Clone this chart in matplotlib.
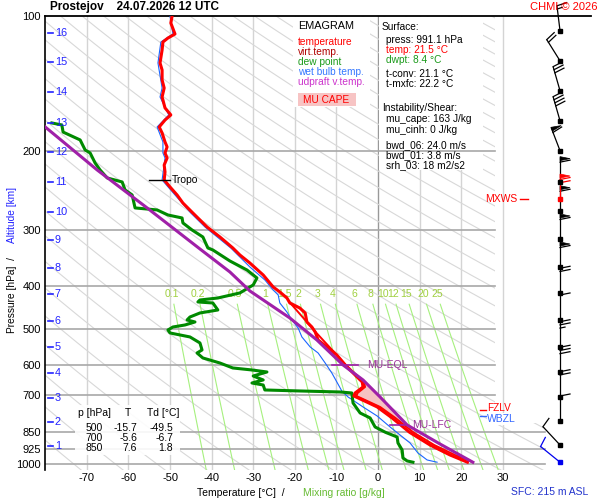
import numpy as np
import matplotlib
matplotlib.use("Agg")
import matplotlib.pyplot as plt
from matplotlib.patches import Rectangle, Polygon
from matplotlib.transforms import blended_transform_factory, IdentityTransform
from matplotlib.ticker import NullLocator

plt.rcParams['font.family'] = ['Liberation Sans', 'DejaVu Sans']

# ---- sounding (hPa, degC) ----
temp_p = [100.0, 103.7, 109.7, 112.0, 114.3, 119.1, 127.3, 132.0, 138.9, 144.8, 151.6, 160.4,
          166.3, 170.7, 176.9, 182.4, 191.1, 196.0, 202.2, 207.5, 215.1, 222.9, 232.3, 240.8,
          250.9, 261.5, 275.3, 295.8, 311.4, 329.5, 341.6, 356.0, 378.6, 402.7, 413.1, 426.0,
          437.2, 448.6, 460.3, 482.0, 494.6, 507.5, 528.7, 548.1, 571.1, 601.3, 633.0, 656.1,
          673.2, 694.3, 705.1, 746.0, 789.6, 850.0, 907.1, 954.9, 991.1]
temp_t = [-49.5, -49.8, -48.8, -50.5, -51.7, -51.9, -52.4, -51.9, -51.9, -51.4, -51.9, -51.2,
          -49.8, -51.2, -52.6, -51.9, -51.2, -50.7, -51.2, -50.7, -51.4, -51.2, -51.4, -50.0,
          -48.3, -46.9, -44.5, -41.1, -38.0, -34.9, -33.2, -30.8, -27.6, -25.2, -23.6, -21.9,
          -21.2, -18.8, -17.5, -17.1, -15.9, -15.1, -14.4, -12.3, -9.9, -7.9, -5.5, -3.8,
          -3.6, -5.5, -5.8, -0.2, 3.4, 7.6, 12.5, 17.3, 21.5]

virt_p = [437.2, 507.5, 601.3, 633.0, 656.1, 673.2, 694.3, 705.1, 746.0, 789.6, 850.0, 907.1, 954.9, 991.1]
virt_t = [-21.1, -15.0, -7.7, -5.2, -3.4, -3.1, -4.9, -5.2, 0.5, 4.2, 8.5, 13.5, 18.5, 22.8]

dewp_p = [173.3, 175.1, 181.6, 189.1, 199.1, 202.2, 212.9, 220.7, 229.9, 234.7, 244.5, 250.9,
          268.2, 271.0, 278.1, 282.4, 289.7, 300.4, 311.4, 329.5, 332.9, 352.3, 369.0, 384.4,
          398.5, 415.2, 426.1, 430.5, 434.9, 437.2, 453.2, 460.2, 469.8, 477.1, 482.0, 489.5,
          494.6, 502.3, 510.0, 520.6, 536.9, 556.6, 565.3, 580.0, 595.2, 610.6, 616.9, 623.3,
          636.3, 649.4, 659.6, 666.4, 683.7, 687.2, 690.8, 694.3, 731.0, 769.5, 789.5, 826.9,
          850.0, 870.6, 897.8, 930.7, 969.6, 984.7, 991.1]
dewp_t = [-78.4, -76.0, -75.7, -71.6, -70.4, -69.2, -68.0, -66.8, -65.1, -61.5, -60.8, -59.1,
          -58.4, -53.1, -50.5, -47.1, -46.9, -44.7, -42.1, -40.9, -39.7, -35.6, -31.5, -29.1,
          -30.0, -33.2, -38.5, -42.8, -43.3, -39.7, -38.5, -42.8, -45.2, -45.9, -44.0, -46.4,
          -49.3, -50.5, -50.0, -45.2, -42.8, -42.3, -43.5, -42.1, -38.0, -34.9, -30.3, -26.7,
          -30.0, -27.6, -30.3, -27.6, -27.2, -18.8, -9.1, -6.3, -6.0, -4.3, -1.9, -0.7,
          1.8, 4.6, 4.8, 5.8, 6.0, 7.0, 8.4]

wetb_p = [100.0, 109.7, 114.3, 127.3, 144.8, 151.6, 166.3, 176.9, 191.1, 202.2, 207.5, 232.3,
          250.9, 275.3, 295.8, 329.5, 363.3, 388.4, 408.9, 419.5, 437.2, 457.9, 477.1, 497.1,
          520.6, 548.1, 565.3, 595.2, 626.5, 656.1, 687.2, 708.8, 746.0, 781.5, 826.9, 861.7,
          897.8, 945.2, 979.7, 991.1]
wetb_t = [-50.0, -49.3, -52.2, -52.9, -51.9, -52.4, -50.3, -53.1, -51.7, -51.7, -51.2, -51.9,
          -48.8, -45.0, -41.6, -35.4, -30.8, -27.2, -25.2, -24.0, -23.6, -21.9, -20.7, -19.2,
          -18.3, -16.3, -14.4, -12.7, -11.1, -9.9, -8.7, -7.2, -3.6, -0.2, 2.9, 5.3,
          7.7, 9.6, 11.8, 14.2]

parcel_p = [176.9, 220.7, 268.2, 331.2, 372.8, 411.0, 472.2, 528.7, 601.3, 649.4, 708.8, 818.5, 902.5, 991.1]
parcel_t = [-80.0, -67.5, -55.5, -42.8, -35.6, -30.8, -21.2, -14.7, -8.4, -3.6, 0.5, 7.0, 14.9, 22.8]

# altitude marks (km -> hPa)
km_vals = list(range(1, 17))
km_p = [913, 805, 711, 626, 548, 479, 417, 365, 316, 274, 235, 201, 173, 148, 127, 109]

# wind profile
wind_p = [107.8, 125.9, 146.8, 171.3, 199.8, 234.3, 272.1, 314.6, 363.4, 415.9, 477.1,
          547.3, 624.2, 707.7, 801.9, 907.1, 991.1]
wind_dir = [353, 328, 344, 344, 339, 360, 360, 360, 360, 360, 360, 360, 360, 360, 360, 317, 309]
wind_spd = [15, 20, 30, 40, 60, 60, 60, 60, 60, 20, 10, 25, 30, 20, 10, 10, 10]
mxws_p, mxws_dir, mxws_spd = 256.2, 360, 70

p_levels = [100, 200, 300, 400, 500, 600, 700, 850, 925, 1000]
t_ticks = [-70, -60, -50, -40, -30, -20, -10, 0, 10, 20, 30]
mix_ratios = [0.1, 0.2, 0.5, 1, 1.5, 2, 3, 4, 6, 8, 10, 12, 15, 20, 25]
mix_labels = ['0.1', '0.2', '0.5', '1', '1.5', '2', '3', '4', '6', '8', '10', '12', '15', '20', '25']

table_p = [500, 700, 850]
table_t = [-15.7, -5.6, 7.6]
table_td = [-49.5, -6.7, 1.8]

tropo_p = 232.3
eql_p, lfc_p = 601.3, 818.5
fzlv_p, wbzl_p = 757.7, 781.5

W, H = 600, 500
def fx(x): return x / W
def fy(y): return 1 - y / H

TMIN, TMAX, PBOT, PTOP = -80.05, 51.2, 1031.6, 100

fig = plt.figure(figsize=(6, 5), dpi=100, facecolor='white')
ax = fig.add_axes([fx(45), fy(470), (591 - 45) / W, (470 - 16) / H])
ax.set_yscale('log')
ax.set_xlim(TMIN, TMAX)
ax.set_ylim(PBOT, PTOP)
for s in ['top', 'right', 'bottom']:
    ax.spines[s].set_visible(False)
ax.spines['left'].set_linewidth(1.2)
ax.yaxis.set_minor_locator(NullLocator())
ax.set_yticks(p_levels)
ax.set_yticklabels([str(p) for p in p_levels])
ax.set_xticks(t_ticks)
ax.set_xticklabels([str(t) for t in t_ticks])
ax.tick_params(length=0, labelsize=8, pad=2)
ax.tick_params(axis='y', pad=3)

clip = Polygon([(TMIN, PTOP), (28.1, PTOP), (28.1, 810), (40.1, 810), (40.1, PBOT), (TMIN, PBOT)],
               closed=True, transform=ax.transData, facecolor='none', edgecolor='none')

# isotherms
for t in t_ticks:
    ax.plot([t, t], [PTOP, PBOT], color='#999999' if t == 0 else '#d4d4d4', lw=1.0, zorder=1)

# dry adiabats
pp = np.geomspace(PTOP, PBOT, 200)
for th in range(190, 610, 10):
    ln, = ax.plot(th * (pp / 1000.0) ** 0.2857 - 273.15, pp, color='#d8d8d8', lw=0.8, zorder=1)
    ln.set_clip_path(clip)

# mixing ratio lines
pm = np.geomspace(440, PBOT, 60)
for w, lab in zip(mix_ratios, mix_labels):
    a = np.log(w * pm / (622.0 + w) / 6.112)
    ln, = ax.plot(243.5 * a / (17.67 - a), pm, color='#a6f07e', lw=0.8, zorder=1)
    ln.set_clip_path(clip)
    a0 = np.log(w * 418 / (622.0 + w) / 6.112)
    ax.text(243.5 * a0 / (17.67 - a0), 418, lab, color='#a0d040', fontsize=7.5,
            ha='center', va='center', zorder=1.2)

# boxes
box_kw = dict(transform=fig.transFigure, facecolor='white', edgecolor='none')
ax.add_patch(Rectangle((fx(293), fy(107)), 77 / W, 90 / H, zorder=1.5, **box_kw))
ax.add_patch(Rectangle((fx(379), fy(170)), 104 / W, 153 / H, zorder=1.5, **box_kw))
ax.add_patch(Rectangle((fx(75), fy(455)), 105 / W, 50 / H, zorder=2.5, alpha=0.9, **box_kw))
ax.add_patch(Rectangle((fx(298), fy(106)), 58 / W, 13 / H, transform=fig.transFigure,
                       facecolor='#f7c4c4', edgecolor='none', zorder=1.6))

# pressure lines
for p in p_levels[1:]:
    ax.plot([TMIN, 40.1 if p >= 850 else 28.1], [p, p], color='#a8a8a8', lw=1.2, zorder=2)
ax.plot([TMIN, TMAX], [PTOP, PTOP], color='black', lw=1.3, zorder=2, clip_on=False)

# CAPE area
pc = np.geomspace(eql_p, lfc_p, 200)
tp = np.interp(np.log(pc), np.log(parcel_p), parcel_t)
te = np.interp(np.log(pc), np.log(virt_p), virt_t)
ax.fill_betweenx(pc, te, tp, where=tp >= te, color='#f6c2c2', lw=0, zorder=2.8)

# profiles
ax.plot(wetb_t, wetb_p, color='#1a66ff', lw=0.8, zorder=3.2)
ax.plot(dewp_t, dewp_p, color='#008a00', lw=2.2, zorder=3.4)
ax.plot(virt_t, virt_p, color='#ff0000', lw=1.4, zorder=3.5)
ax.plot(temp_t, temp_p, color='#ff0000', lw=2.2, zorder=3.6)
ax.plot(parcel_t, parcel_p, color='#a020a8', lw=2.2, zorder=3.7)

# level marks
ax.plot([-55.0, -50.0], [tropo_p, tropo_p], color='black', lw=1, zorder=4)
ax.text(-49.6, tropo_p, 'Tropo', fontsize=7.5, va='center', zorder=5)
ax.plot([-11.0, -4.8], [eql_p, eql_p], color='#a020a8', lw=1.2, zorder=4)
ax.text(-2.6, eql_p, 'MU-EQL', color='#993399', fontsize=7.5, va='center', zorder=5)
ax.plot([2.9, 6.5], [lfc_p, lfc_p], color='#a020a8', lw=1.2, zorder=4)
ax.text(8.2, lfc_p, 'MU-LFC', color='#993399', fontsize=7.5, va='center', zorder=5)
ax.plot([24.5, 26.0], [fzlv_p, fzlv_p], color='red', lw=1, zorder=4)
ax.text(26.3, 749.6, 'FZLV', color='red', fontsize=7.2, va='center', zorder=5)
ax.plot([24.5, 26.0], [wbzl_p, wbzl_p], color='#3366ff', lw=1, zorder=4)
ax.text(26.3, 793.7, 'WBZL', color='#3366ff', fontsize=7.5, va='center', zorder=5.1,
        bbox=dict(facecolor='white', edgecolor='none', pad=0.6))
ax.plot([34.1, 36.1], [mxws_p, mxws_p], color='red', lw=1, zorder=4)
ax.text(33.4, mxws_p, 'MXWS', color='red', fontsize=7.5, va='center', ha='right', zorder=5)

# altitude scale
trans = blended_transform_factory(ax.transAxes, ax.transData)
for k, p in zip(km_vals, km_p):
    ax.plot([0.0055, 0.0147], [p, p], color='#2222ff', lw=1.2, transform=trans, zorder=4)
    ax.text(0.0183, p, str(k), color='#2222ff', fontsize=7.8, va='center', transform=trans, zorder=5)

# wind barbs, drawn in pixels around each level dot
xw = 43.75
ident = IdentityTransform()
STAFF, FEAT, FLAGW, GAP = 25.0, 10.0, 4.0, 3.2

def draw_barb(p, wdir, spd, col):
    bx, by = ax.transData.transform((xw, p))
    d = np.radians(wdir)
    s = np.array([np.sin(d), np.cos(d)])      # towards where the wind comes from
    r = np.array([np.cos(d), -np.sin(d)])     # feathers on the right side
    base = np.array([bx, by])
    tip = base + STAFF * s
    ax.plot([base[0], tip[0]], [base[1], tip[1]], color=col, lw=0.9, transform=ident,
            clip_on=False, zorder=4, solid_capstyle='butt')
    pos = tip.copy()
    n50, rest = divmod(int(spd), 50)
    n10, rest = divmod(rest, 10)
    n5 = rest // 5
    for _ in range(n50):
        apex = pos + FEAT * r - s * FLAGW / 2
        back = pos - s * FLAGW
        ax.fill([pos[0], apex[0], back[0]], [pos[1], apex[1], back[1]], color=col, lw=0.5,
                transform=ident, clip_on=False, zorder=4)
        pos = back - s * 1.5
    for _ in range(n10):
        end = pos + FEAT * r + s * 2.0
        ax.plot([pos[0], end[0]], [pos[1], end[1]], color=col, lw=0.9, transform=ident,
                clip_on=False, zorder=4)
        pos = pos - s * GAP
    for _ in range(n5):
        end = pos + FEAT * 0.5 * r + s * 1.0
        ax.plot([pos[0], end[0]], [pos[1], end[1]], color=col, lw=0.9, transform=ident,
                clip_on=False, zorder=4)

for p, dd, sp in zip(wind_p[:-1], wind_dir[:-1], wind_spd[:-1]):
    draw_barb(p, dd, sp, 'black')
draw_barb(wind_p[-1], wind_dir[-1], wind_spd[-1], '#0000ee')
draw_barb(mxws_p, mxws_dir, mxws_spd, 'red')
ax.plot(np.full(len(wind_p) - 1, xw), wind_p[:-1], ls='none', marker='s', ms=2.6, color='black',
        zorder=4.5, clip_on=False)
ax.plot([xw], [wind_p[-1]], ls='none', marker='s', ms=2.8, color='#0000ee', zorder=4.5, clip_on=False)
ax.plot([xw], [mxws_p], ls='none', marker='s', ms=2.8, color='red', zorder=4.6, clip_on=False)

# titles and labels
fig.text(fx(50), fy(7), 'Prostejov    24.07.2026 12 UTC', fontsize=8.5, fontweight='bold', va='center')
fig.text(fx(597), fy(7), 'CHMI © 2026', fontsize=8, color='red', ha='right', va='center')
fig.text(fx(12), fy(333), 'Pressure [hPa]  /', rotation=90, rotation_mode='anchor',
         ha='left', va='center', fontsize=7.3)
fig.text(fx(12), fy(243), 'Altitude [km]', rotation=90, rotation_mode='anchor',
         ha='left', va='center', fontsize=7.3, color='#2222ff')
fig.text(fx(197), fy(493), 'Temperature [°C]  /', fontsize=7.5, va='center')
fig.text(fx(303), fy(493), 'Mixing ratio [g/kg]', fontsize=7.5, va='center', color='#66bb33')
fig.text(fx(588), fy(492), 'SFC: 215 m ASL', fontsize=7.5, va='center', ha='right', color='#2233cc')

# legend
fig.text(fx(298), fy(26), 'EMAGRAM', fontsize=7.8, va='center')
legend_items = [('temperature', '#ff0000'), ('virt.temp.', '#b00000'), ('dew point', '#1a9a1a'),
                ('wet bulb temp.', '#3377ff'), ('udpraft v.temp.', '#cc33cc')]
for i, (lab, col) in enumerate(legend_items):
    fig.text(fx(298), fy(42 + 10 * i), lab, color=col, fontsize=7.3, va='center')
fig.text(fx(303), fy(100), 'MU CAPE', color='red', fontsize=7.3, va='center')

# info block
info = [(382, 27, 'Surface:', 'black'), (386, 40, 'press: 991.1 hPa', 'black'),
        (386, 50, 'temp: 21.5 °C', 'red'), (386, 60, 'dwpt: 8.4 °C', '#1a9a1a'),
        (386, 74, 't-conv: 21.1 °C', 'black'), (386, 84, 't-mxfc: 22.2 °C', 'black'),
        (382, 108, 'Instability/Shear:', 'black'), (386, 119, 'mu_cape: 163 J/kg', 'black'),
        (386, 130, 'mu_cinh: 0 J/kg', 'black'), (386, 145, 'bwd_06: 24.0 m/s', 'black'),
        (386, 155, 'bwd_01: 3.8 m/s', 'black'), (386, 165, 'srh_03: 18 m2/s2', 'black')]
for x, y, s, c in info:
    fig.text(fx(x), fy(y), s, color=c, fontsize=7.3, va='center')

# table
fig.text(fx(78), fy(413), 'p [hPa]', fontsize=7.5, va='center')
fig.text(fx(125), fy(413), 'T', fontsize=7.5, va='center')
fig.text(fx(147), fy(413), 'Td [°C]', fontsize=7.5, va='center')
for i, (p, t, td) in enumerate(zip(table_p, table_t, table_td)):
    y = 428 + 10 * i
    fig.text(fx(103), fy(y), str(p), fontsize=7.5, va='center', ha='right')
    fig.text(fx(137), fy(y), f'{t:.1f}', fontsize=7.5, va='center', ha='right')
    fig.text(fx(173), fy(y), f'{td:.1f}', fontsize=7.5, va='center', ha='right')

fig.savefig('out.png', dpi=100, facecolor='white')
